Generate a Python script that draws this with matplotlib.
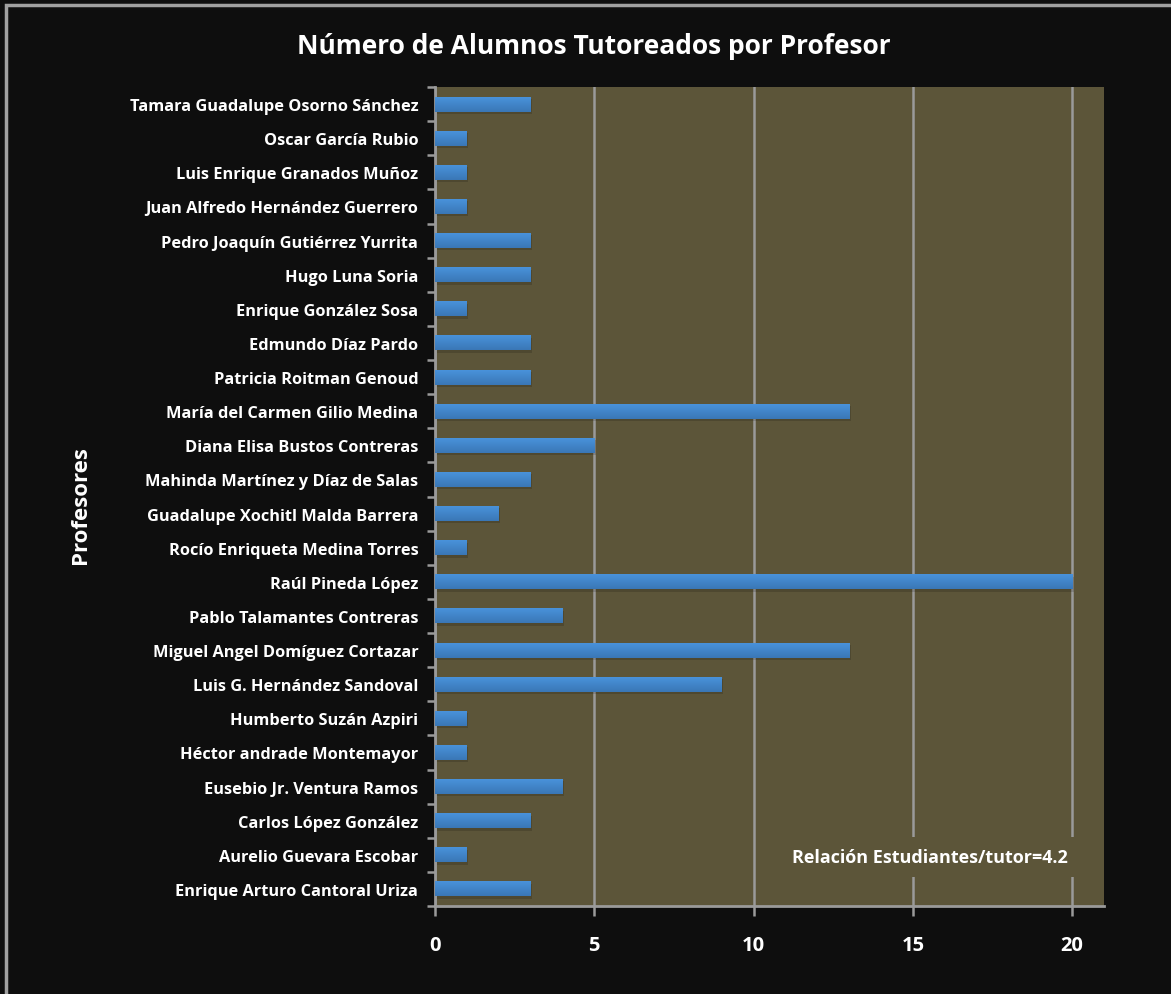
import numpy as np
import matplotlib
matplotlib.use("Agg")
import matplotlib.pyplot as plt
from matplotlib.patches import Rectangle
from matplotlib.colors import LinearSegmentedColormap

profesores = [
    "Tamara Guadalupe Osorno Sánchez",
    "Oscar García Rubio",
    "Luis Enrique Granados Muñoz",
    "Juan Alfredo Hernández Guerrero",
    "Pedro Joaquín Gutiérrez Yurrita",
    "Hugo Luna Soria",
    "Enrique González Sosa",
    "Edmundo Díaz Pardo",
    "Patricia Roitman Genoud",
    "María del Carmen Gilio Medina",
    "Diana Elisa Bustos Contreras",
    "Mahinda Martínez y Díaz de Salas",
    "Guadalupe Xochitl Malda Barrera",
    "Rocío Enriqueta Medina Torres",
    "Raúl Pineda López",
    "Pablo Talamantes Contreras",
    "Miguel Angel Domíguez Cortazar",
    "Luis G. Hernández Sandoval",
    "Humberto Suzán Azpiri",
    "Héctor andrade Montemayor",
    "Eusebio Jr. Ventura Ramos",
    "Carlos López González",
    "Aurelio Guevara Escobar",
    "Enrique Arturo Cantoral Uriza",
]
alumnos = [3, 1, 1, 1, 3, 3, 1, 3, 3, 13, 5, 3, 2, 1, 20, 4, 13, 9, 1, 1, 4, 3, 1, 3]
xticks = [0, 5, 10, 15, 20]
nota = "Relación Estudiantes/tutor=4.2"

plt.rcParams["font.family"] = ["Open Sans", "DejaVu Sans"]
plt.rcParams["font.weight"] = "bold"

BG = "#0e0e0e"
PLOT = "#5c5539"
GRID = "#9a9a9a"

fig = plt.figure(figsize=(11.71, 9.95), dpi=100, facecolor=BG)
# outer frame of the chart (only top/left visible in the original)
fig.patches.append(Rectangle((6 / 1171, -0.05), 1.2, 1 - 6 / 995 + 0.05,
                             transform=fig.transFigure, facecolor="none",
                             edgecolor="#a0a0a0", lw=2.5, zorder=0))

ax = fig.add_axes([435 / 1171, 1 - 907 / 995, (1104 - 435) / 1171, (907 - 88) / 995])
ax.set_facecolor(PLOT)

n = len(profesores)
y = np.arange(n)[::-1]
h = 0.44

grad = LinearSegmentedColormap.from_list("g", ["#3a77b6", "#4a94dd"])
gimg = np.linspace(0, 1, 50).reshape(-1, 1)
for yi, v in zip(y, alumnos):
    # soft shadow under the bar
    ax.barh(yi - 0.07, v, height=h, left=0.05, color="black", alpha=0.15, zorder=2, lw=0)
    bar = ax.barh(yi, v, height=h, color="#4589d0", zorder=3, lw=0)[0]
    im = ax.imshow(gimg, extent=(0, v, yi - h / 2, yi + h / 2), aspect="auto",
                   cmap=grad, origin="lower", zorder=3.5)
    im.set_clip_path(bar)

ax.set_xlim(0, 21)
ax.set_ylim(-0.5, n - 0.5)
ax.set_xticks(xticks)
ax.set_xticklabels([str(t) for t in xticks])
ax.set_yticks(y)
ax.set_yticklabels(profesores)
ax.set_yticks(np.arange(n + 1) - 0.5, minor=True)

ax.grid(axis="x", color=GRID, lw=1.8, zorder=1)
ax.set_axisbelow(True)
for s in ["top", "right"]:
    ax.spines[s].set_visible(False)
for s in ["left", "bottom"]:
    ax.spines[s].set_color(GRID)
    ax.spines[s].set_linewidth(2)

ax.tick_params(axis="y", which="major", length=0, pad=12, labelsize=11.8, labelcolor="white")
ax.tick_params(axis="y", which="minor", length=6, width=1.8, color=GRID, direction="out")
ax.tick_params(axis="x", length=7, width=1.8, color=GRID, direction="out",
               pad=14, labelsize=14.5, labelcolor="white")

ax.text(15.55, 0.94, nota, color="white", fontsize=13, fontweight="bold",
        ha="center", va="center", zorder=5,
        bbox=dict(facecolor=PLOT, edgecolor="none", pad=8))

fig.text(594 / 1171, 1 - 47 / 995, "Número de Alumnos Tutoreados por Profesor",
         color="white", fontsize=19, fontweight="bold", ha="center", va="center")
fig.text(80 / 1171, 1 - 505 / 995, "Profesores", color="white", fontsize=16,
         fontweight="bold", rotation=90, ha="center", va="center")

fig.savefig("out.png", dpi=100, facecolor=BG)
